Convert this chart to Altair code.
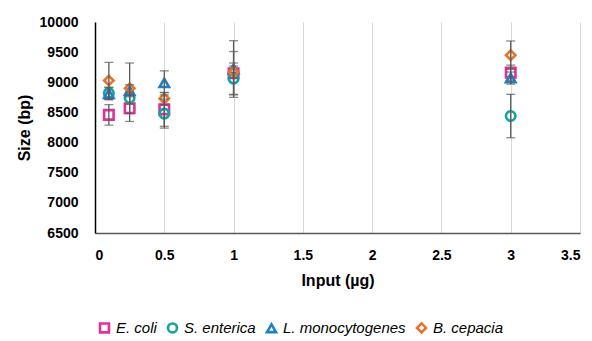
import altair as alt
import pandas as pd

series = ["E. coli", "S. enterica", "L. monocytogenes", "B. cepacia"]
colors = ["#E0309A", "#13A3A0", "#1F80C8", "#E8742C"]
shapes = ["square", "circle", "triangle-up", "diamond"]

inputs = [0.1, 0.25, 0.5, 1, 3]
size_ecoli = [8460, 8570, 8550, 9150, 9160]
size_sent = [8820, 8740, 8480, 9060, 8440]
size_lmono = [8810, 8860, 8990, 9220, 9070]
size_bcep = [9030, 8900, 8730, 9170, 9450]
err_ecoli = [170, 220, 280, 360, 125]
err_sent = [100, 100, 240, 260, 360]
err_lmono = [100, 100, 200, 470, 100]
err_bcep = [300, 420, 100, 100, 235]

x_ticks = [0, 0.5, 1, 1.5, 2, 2.5, 3, 3.5]
y_ticks = [6500, 7000, 7500, 8000, 8500, 9000, 9500, 10000]

rows = []
for name, vals, errs in zip(series,
                            [size_ecoli, size_sent, size_lmono, size_bcep],
                            [err_ecoli, err_sent, err_lmono, err_bcep]):
    for x, v, e in zip(inputs, vals, errs):
        rows.append({"series": name, "input": x, "size": v,
                     "lo": v - e, "hi": v + e})
df = pd.DataFrame(rows)

xscale = alt.Scale(domain=[0, 3.5], nice=False, zero=False)
yscale = alt.Scale(domain=[6500, 10000], nice=False, zero=False)

xax = alt.Axis(values=x_ticks, format="~g", labelOverlap=False,
               grid=True, gridColor="#D9D9D9", gridWidth=1,
               ticks=False, domainColor="#595959", domainWidth=1.5,
               labelFontSize=14, labelFontWeight="bold", labelColor="#000000",
               labelPadding=15, title="Input (µg)", titleFontSize=16,
               titleFontWeight="bold", titlePadding=10, titleColor="#000000")
yax = alt.Axis(values=y_ticks, format="d", labelOverlap=False, labelFlush=False,
               grid=False, ticks=False, domainColor="#000000", domainWidth=1.5,
               labelFontSize=14, labelFontWeight="bold", labelColor="#000000",
               labelPadding=17, title="Size (bp)", titleFontSize=16,
               titleFontWeight="bold", titlePadding=7, titleColor="#000000")

X = alt.X("input:Q", scale=xscale, axis=xax)

base = alt.Chart(df)

points = base.mark_point(filled=False, strokeWidth=2.6, size=90, opacity=1).encode(
    x=X,
    y=alt.Y("size:Q", scale=yscale, axis=yax),
    color=alt.Color("series:N", scale=alt.Scale(domain=series, range=colors),
                    legend=alt.Legend(title=None, orient="none", legendX=2, legendY=298,
                                      direction="horizontal", columns=4,
                                      labelFontSize=15, labelFontStyle="italic",
                                      labelColor="#000000", symbolSize=80,
                                      symbolStrokeWidth=2.6, columnPadding=5,
                                      labelOffset=4)),
    shape=alt.Shape("series:N", scale=alt.Scale(domain=series, range=shapes)),
)

rules = base.mark_rule(color="#595959", strokeWidth=1.3).encode(
    x=X, y=alt.Y("lo:Q", scale=yscale, axis=yax), y2="hi:Q")
cap_lo = base.mark_tick(color="#595959", thickness=1.3, size=9, orient="horizontal").encode(
    x=X, y=alt.Y("lo:Q", scale=yscale, axis=yax))
cap_hi = base.mark_tick(color="#595959", thickness=1.3, size=9, orient="horizontal").encode(
    x=X, y=alt.Y("hi:Q", scale=yscale, axis=yax))

chart = alt.layer(points, rules, cap_lo, cap_hi).properties(
    width=485, height=211,
    padding={"left": 95, "top": 22, "right": 12, "bottom": 108},
    autosize="none",
).configure(font="Liberation Sans").configure_view(stroke=None)

chart.save("out.html", embed_options={"renderer": "svg", "actions": False})
